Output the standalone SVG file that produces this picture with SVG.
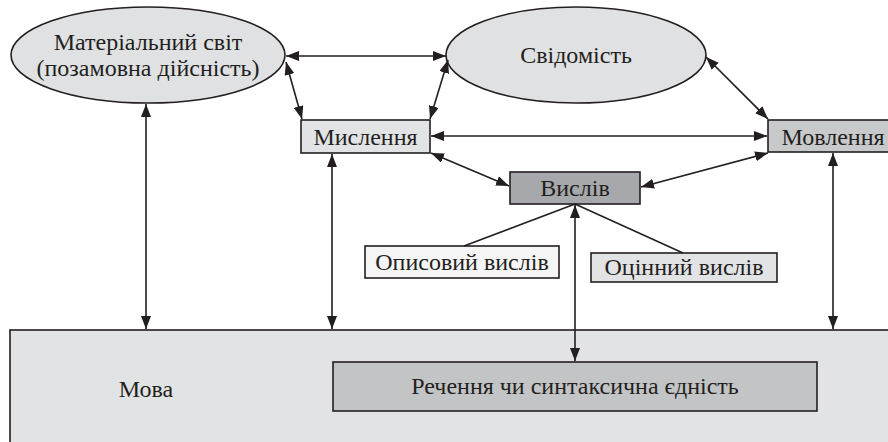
<svg xmlns="http://www.w3.org/2000/svg" width="888" height="442" viewBox="0 0 888 442">
<defs>
<marker id="ah" viewBox="0 0 13 10" refX="13" refY="5" markerWidth="13" markerHeight="10" markerUnits="userSpaceOnUse" orient="auto-start-reverse">
<path d="M0,0 L13,5 L0,10 Z" fill="#231f20"/>
</marker>
<style>
.n{stroke:#231f20;stroke-width:1.6}
.t{font-family:"Liberation Serif","DejaVu Serif",serif;font-size:24px;fill:#231f20;text-anchor:middle}
.c{stroke:#231f20;stroke-width:1.6;fill:none}
.a{marker-start:url(#ah);marker-end:url(#ah)}
</style>
</defs>
<rect width="888" height="442" fill="#ffffff"/>
<g id="mova">
<rect class="n" x="10" y="330" width="890" height="130" fill="#e2e3e5"/>
<text class="t" x="146" y="397">Мова</text>
</g>
<g id="rechennya">
<rect class="n" x="333" y="362" width="484" height="49" fill="#c3c4c6"/>
<text class="t" x="575" y="394">Речення чи синтаксична єдність</text>
</g>
<g id="materialnyi">
<ellipse class="n" cx="148" cy="55" rx="137" ry="48" fill="#e0e1e3"/>
<text class="t" x="148" y="50">Матеріальний світ</text>
<text class="t" x="148" y="76">(позамовна дійсність)</text>
</g>
<g id="svidomist">
<ellipse class="n" cx="576" cy="55" rx="130" ry="48" fill="#e0e1e3"/>
<text class="t" x="576" y="63">Свідомість</text>
</g>
<g id="myslennya">
<rect class="n" x="301" y="120" width="129" height="33" fill="#e2e3e5"/>
<text class="t" x="365.5" y="145">Мислення</text>
</g>
<g id="movlennya">
<rect class="n" x="768" y="120" width="130" height="32" fill="#c8c9cb"/>
<text class="t" x="833" y="145">Мовлення</text>
</g>
<g id="vysliv">
<rect class="n" x="510" y="172" width="130" height="32" fill="#a6a8ab"/>
<text class="t" x="575" y="196">Вислів</text>
</g>
<g id="opysovyi">
<rect class="n" x="365" y="246" width="194" height="32" fill="#f5f5f5"/>
<text class="t" x="462" y="270">Описовий вислів</text>
</g>
<g id="otsinnyi">
<rect class="n" x="591" y="253" width="186" height="29" fill="#e2e3e5"/>
<text class="t" x="684" y="275">Оцінний вислів</text>
</g>
<g id="connectors">
<line class="c a" x1="286" y1="56" x2="446" y2="56"/>
<line class="c a" x1="286" y1="62" x2="302" y2="119"/>
<line class="c a" x1="448" y1="60" x2="430" y2="119"/>
<line class="c a" x1="706" y1="57" x2="768" y2="119"/>
<line class="c a" x1="431" y1="136" x2="767" y2="136"/>
<line class="c a" x1="431" y1="153" x2="509" y2="186"/>
<line class="c a" x1="641" y1="187" x2="768" y2="153"/>
<line class="c a" x1="146" y1="104" x2="146" y2="329"/>
<line class="c a" x1="332" y1="154" x2="332" y2="329"/>
<line class="c a" x1="575" y1="205" x2="575" y2="361"/>
<line class="c a" x1="833" y1="153" x2="833" y2="329"/>
<line class="c" x1="575" y1="204" x2="464" y2="246"/>
<line class="c" x1="575" y1="204" x2="683" y2="253"/>
</g>
</svg>
